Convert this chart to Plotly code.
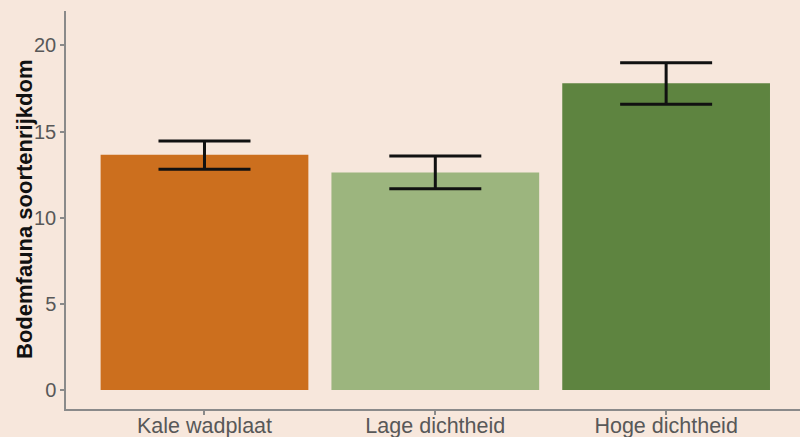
import plotly.graph_objects as go

categories = ["Kale wadplaat", "Lage dichtheid", "Hoge dichtheid"]
means = [13.65, 12.63, 17.80]
err_plus = [0.81, 0.96, 1.19]
err_minus = [0.83, 0.94, 1.21]
colors = ["#CC6F1E", "#9CB57E", "#5E8440"]
y_ticks = [0, 5, 10, 15, 20]
y_title = "Bodemfauna soortenrijkdom"

bg = "#F7E7DC"
axis_grey = "#8a8a8a"
text_grey = "#585858"
font_family = "Liberation Sans, Arial, sans-serif"

W, H = 800, 437
ML, MR, MT, MB = 66, 0, 11, 28

fig = go.Figure()
fig.add_trace(go.Bar(
    x=categories,
    y=means,
    width=0.9,
    marker=dict(color=colors, line=dict(width=0)),
    error_y=dict(
        type="data",
        symmetric=False,
        array=err_plus,
        arrayminus=err_minus,
        color="#111111",
        thickness=3,
        width=46,
    ),
    showlegend=False,
))

fig.update_layout(
    width=W,
    height=H,
    paper_bgcolor=bg,
    plot_bgcolor=bg,
    margin=dict(l=ML, r=MR, t=MT, b=MB),
    font=dict(family=font_family, color=text_grey),
    bargap=0.1,
)

fig.update_xaxes(
    type="category",
    range=[-0.6, 2.58],
    automargin=False,
    showline=True,
    linecolor=axis_grey,
    linewidth=1.5,
    ticks="outside",
    ticklen=4,
    tickcolor=axis_grey,
    tickwidth=1.5,
    ticklabelstandoff=-8,
    tickfont=dict(size=21.5, color=text_grey, family=font_family),
    showgrid=False,
    zeroline=False,
)

fig.update_yaxes(
    range=[-1.1, 22.0],
    automargin=False,
    tickvals=y_ticks,
    ticktext=[str(v) for v in y_ticks],
    showline=True,
    linecolor=axis_grey,
    linewidth=1.5,
    ticks="outside",
    ticklen=4,
    tickcolor=axis_grey,
    tickwidth=1.5,
    tickfont=dict(size=20, color=text_grey, family=font_family),
    showgrid=False,
    zeroline=False,
)

plot_w = W - ML - MR
fig.add_annotation(
    text="<b>" + y_title + "</b>",
    xref="paper", yref="paper",
    x=-(ML - 24) / plot_w, y=0.5,
    xanchor="center", yanchor="middle",
    textangle=-90,
    showarrow=False,
    font=dict(size=22, color="#111111", family=font_family),
)

fig.write_html("out.html")
